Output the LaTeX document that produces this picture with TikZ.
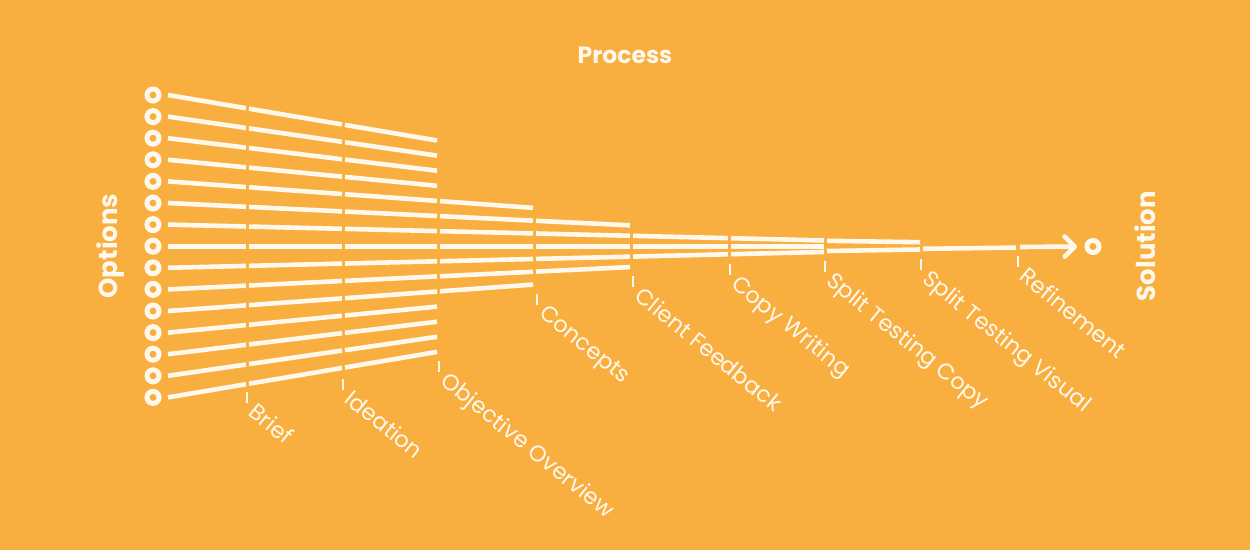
\documentclass[tikz,border=0pt]{standalone}
\usepackage{fontspec}
\setmainfont{Poppins}
\usetikzlibrary{arrows.meta}
\definecolor{bg}{HTML}{F9AE40}
\definecolor{fg}{HTML}{FFF8EC}
\begin{document}
\begin{tikzpicture}[x=1pt,y=-1pt,
  ring/.style={circle,draw=fg,line width=5pt,minimum size=12pt,inner sep=0pt},
  fan/.style={draw=fg,line width=4.6pt},
  tick/.style={draw=fg,line width=1.8pt},
  stage/.style={text=fg,font=\fontsize{22.5}{26}\selectfont,rotate=-39,anchor=north west,inner sep=0pt},
  title/.style={text=fg,font=\bfseries\fontsize{23.5}{28}\selectfont,inner sep=0pt},
  sidetitle/.style={text=fg,font=\bfseries\fontsize{26}{30}\selectfont,inner sep=0pt,rotate=90}]
\fill[bg] (0,0) rectangle (1250,550);
\useasboundingbox (0,0) rectangle (1250,550);
% titles
\node[title] (process) at (625,55) {Process};
\node[sidetitle] (options) at (111,246) {Options};
\node[sidetitle] (solution) at (1145,246) {Solution};
% option rings
\foreach \i in {0,...,14}{
  \pgfmathsetmacro{\yy}{95+21.6*\i}
  \node[ring] (o\i) at (153,\yy) {};
}
% fan segments
\foreach \xa/\xb/\ia/\ib in {168/246/0/14,249/342/0/14,345/437/0/14,440/533/4/10,536/630/5/9,633/728/6/8,731/824/6/8}{
  \foreach \i in {\ia,...,\ib}{
    \pgfmathsetmacro{\ya}{246.2+(\i-7)*(21.6-0.02416*(\xa-168))}
    \pgfmathsetmacro{\yb}{246.2+(\i-7)*(21.6-0.02416*(\xb-168))}
    \draw[fan] (\xa,\ya) -- (\xb,\yb);
  }
}
\draw[fan] (827,240.8) -- (920,242.2);
\draw[fan] (827,251) -- (920,249.5);
\draw[fan] (923,248.8) -- (1016,247.6);
% solution
\node[ring] (sol) at (1093,246.5) {};
\coordinate (arrA) at (1020,247);
\coordinate (arrB) at (1077,246.5);
\draw[fan,-{Straight Barb[length=10pt,width=20pt,line cap=round,line join=round]}] (arrA) -- (arrB);
% stage labels
\foreach \n/\x/\yb/\txt in {brief/247/403/Brief,ideation/343/390/Ideation,objective/439/372/Objective Overview,concepts/537/305/Concepts,client/633/287/Client Feedback,copy/730/275/Copy Writing,stcopy/825/272/Split Testing Copy,stvisual/921/270/Split Testing Visual,refine/1018/267/Refinement}{
  \coordinate (t\n) at (\x,\yb-11);
  \node[stage] (\n) at (\x+11,\yb-2) {\txt};
  \draw[tick] (t\n) -- (\x,\yb);
}
\end{tikzpicture}
\end{document}
